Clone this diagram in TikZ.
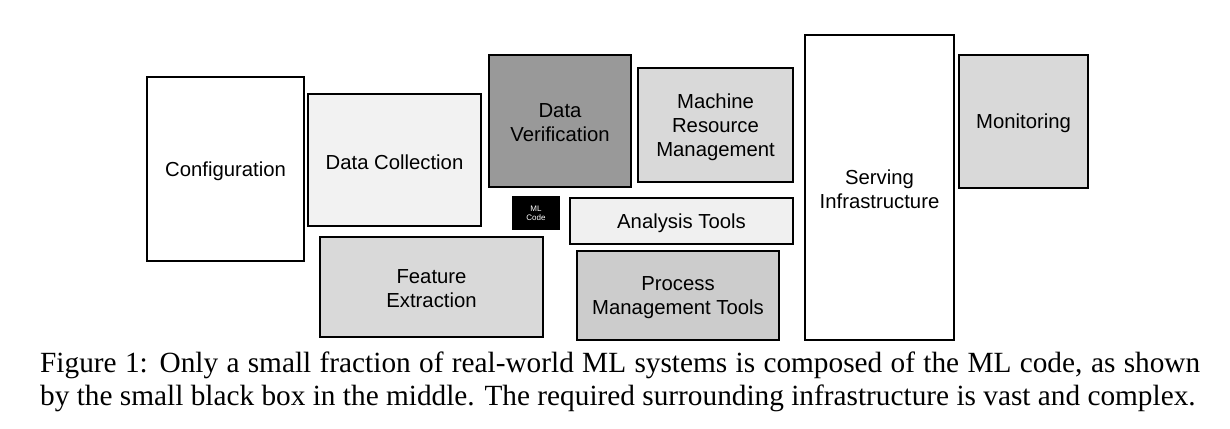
\documentclass[tikz,border=0pt]{standalone}
\usepackage{fontspec}
\setmainfont{Liberation Serif}
\newfontfamily\boxfont{Liberation Sans}
\begin{document}
\begin{tikzpicture}[x=1pt,y=-1pt]
\useasboundingbox (0,0) rectangle (1230,428);
\newcommand\bx[7]{\filldraw[fill=#6,draw=black,line width=1.3pt] (#2,#3) rectangle (#4,#5);
  \node[font=\boxfont\fontsize{20.3}{24}\selectfont,align=center] (#1) at ({(#2+#4)/2},{(#3+#5)/2+2}) {#7};}
\bx{cfg}{147}{77}{304}{261}{white}{Configuration}
\bx{dc}{308}{94}{481}{226}{black!5}{Data Collection}
\bx{dv}{489}{55}{631}{187}{black!40}{Data\\Verification}
\bx{mrm}{638}{68}{793}{182}{black!15}{Machine\\Resource\\Management}
\bx{si}{805}{35}{954}{340}{white}{Serving\\Infrastructure}
\bx{mon}{959}{55}{1088}{188}{black!15}{Monitoring}
\bx{at}{570}{198}{793}{244}{black!6}{Analysis Tools}
\bx{fe}{320}{237}{543}{337}{black!15}{Feature\\Extraction}
\bx{pmt}{577}{251}{779}{340}{black!20}{Process\\Management Tools}
\fill[black] (512,196) rectangle (560,230);
\node[text=white,font=\boxfont\fontsize{8}{9}\selectfont,align=center] (ml) at (536,213) {ML\\Code};
\node[anchor=north west,font=\fontsize{29.3}{33}\selectfont,align=justify,text width=1160pt,inner sep=0pt] (cap) at (40,352)
 {Figure 1: Only a small fraction of real-world ML systems is composed of the ML code, as shown
  by the small black box in the middle. The required surrounding infrastructure is vast and complex.};
\end{tikzpicture}
\end{document}
